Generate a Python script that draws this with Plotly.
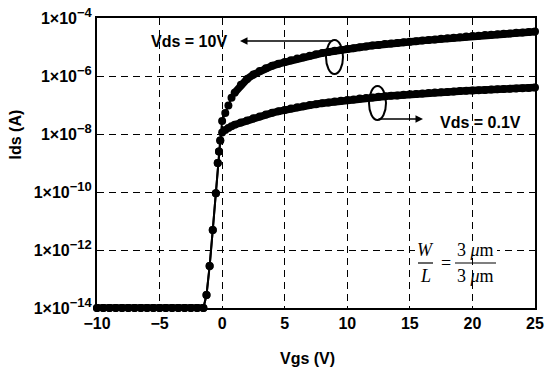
import plotly.graph_objects as go

# ---------------- data ----------------
vgs_off = [-10.0, -9.5, -9.0, -8.5, -8.0, -7.5, -7.0, -6.5, -6.0, -5.5, -5.0,
           -4.5, -4.0, -3.5, -3.0, -2.5, -2.0, -1.5,
           -1.25, -1.0, -0.75, -0.5, -0.35, -0.25, -0.15]
ids_off = [1e-14, 1e-14, 1e-14, 1e-14, 1e-14, 1e-14, 1e-14, 1e-14, 1e-14, 1e-14, 1e-14,
           1e-14, 1e-14, 1e-14, 1e-14, 1e-14, 1e-14, 1e-14,
           2.8e-14, 2.8e-13, 4.9e-12, 9.0e-11, 1.0e-9, 2.5e-9, 6.0e-9]
N_FLAT = 18  # points of the flat leakage floor at the start of vgs_off

vgs_on = [0.0, 0.25, 0.5, 0.75, 1.0, 1.5, 2.0, 2.5, 3.0, 3.5, 4.0, 4.5, 5.0,
          5.5, 6.0, 6.5, 7.0, 7.5, 8.0, 8.5, 9.0, 9.5, 10.0, 10.5, 11.0, 11.5,
          12.0, 12.5, 13.0, 13.5, 14.0, 14.5, 15.0, 15.5, 16.0, 16.5, 17.0,
          17.5, 18.0, 18.5, 19.0, 19.5, 20.0, 20.5, 21.0, 21.5, 22.0, 22.5,
          23.0, 23.5, 24.0, 24.5, 25.0]

ids_vds10 = [2.82e-8, 5.25e-8, 9.55e-8, 1.78e-7, 2.63e-7, 5.01e-7, 7.94e-7,
             1.12e-6, 1.48e-6, 1.86e-6, 2.24e-6, 2.63e-6, 3.02e-6, 3.47e-6,
             3.98e-6, 4.47e-6, 5.01e-6, 5.62e-6, 6.17e-6, 6.76e-6, 7.41e-6,
             7.94e-6, 8.51e-6, 9.12e-6, 9.77e-6, 1.05e-5, 1.12e-5, 1.17e-5,
             1.26e-5, 1.32e-5, 1.38e-5, 1.45e-5, 1.51e-5, 1.58e-5, 1.66e-5,
             1.74e-5, 1.82e-5, 1.91e-5, 2.00e-5, 2.09e-5, 2.19e-5, 2.29e-5,
             2.40e-5, 2.45e-5, 2.57e-5, 2.63e-5, 2.75e-5, 2.88e-5, 2.95e-5,
             3.09e-5, 3.16e-5, 3.31e-5, 3.39e-5]

ids_vds01 = [1.12e-8, 1.38e-8, 1.62e-8, 1.86e-8, 2.09e-8, 2.51e-8, 2.95e-8,
             3.47e-8, 3.98e-8, 4.68e-8, 5.37e-8, 6.03e-8, 6.76e-8, 7.59e-8,
             8.32e-8, 9.12e-8, 1.00e-7, 1.07e-7, 1.15e-7, 1.23e-7, 1.32e-7,
             1.41e-7, 1.48e-7, 1.55e-7, 1.66e-7, 1.74e-7, 1.82e-7, 1.91e-7,
             2.00e-7, 2.09e-7, 2.14e-7, 2.24e-7, 2.34e-7, 2.40e-7, 2.51e-7,
             2.57e-7, 2.69e-7, 2.75e-7, 2.82e-7, 2.95e-7, 3.02e-7, 3.09e-7,
             3.16e-7, 3.24e-7, 3.31e-7, 3.39e-7, 3.47e-7, 3.55e-7, 3.63e-7,
             3.72e-7, 3.80e-7, 3.89e-7, 3.98e-7]

x_ticks = [-10, -5, 0, 5, 10, 15, 20, 25]
y_ticks = [1e-14, 1e-12, 1e-10, 1e-8, 1e-6, 1e-4]
y_exponents = ["−14", "−12", "−10", "−8", "−6", "−4"]

# ---------------- figure ----------------
FONT = "Liberation Sans"
fig = go.Figure()
for name, ids in [("Vds = 0.1V", ids_vds01), ("Vds = 10V", ids_vds10)]:
    xs = vgs_off + vgs_on
    ys = ids_off + ids
    # measured points with markers and a thin connecting line
    fig.add_trace(go.Scatter(
        x=xs, y=ys, mode="lines+markers", name=name,
        line=dict(color="black", width=2),
        marker=dict(color="black", size=8),
        cliponaxis=False, showlegend=False))
    # dense sweep regions appear as a solid band of overlapping markers
    fig.add_trace(go.Scatter(
        x=vgs_on[4:], y=ids[4:], mode="lines", hoverinfo="skip",
        line=dict(color="black", width=7.5), cliponaxis=False, showlegend=False))
    fig.add_trace(go.Scatter(
        x=vgs_off[:N_FLAT], y=ids_off[:N_FLAT], mode="lines", hoverinfo="skip",
        line=dict(color="black", width=7), cliponaxis=False, showlegend=False))

grid = dict(showgrid=True, gridcolor="black", gridwidth=1.3, griddash="7px,5px",
            showline=True, linecolor="black", linewidth=2, mirror=True,
            ticks="", zeroline=False,
            tickfont=dict(family=FONT, size=16, color="black", weight="bold"))

y_ticktext = ["1×10<sup><span style='font-size:13px'>%s</span></sup>" % e
              for e in y_exponents]

fig.update_xaxes(range=[-10, 25], tickvals=x_ticks, **grid)
fig.update_yaxes(type="log", range=[-14, -4], tickvals=y_ticks,
                 ticktext=y_ticktext, **grid)

def px(x):
    return (x - 97) / 438

def py(y):
    return (308 - y) / 290

bold = dict(family=FONT, size=16, color="black", weight="bold")
serif = dict(family="Liberation Serif", size=18, color="black")

annotations = [
    dict(x=px(15), y=py(134.5), text="Ids (A)", textangle=-90, font=bold),
    dict(x=px(307), y=py(358), text="Vgs (V)", font=bold),
    dict(x=px(189), y=py(41), text="Vds = 10V", font=bold),
    dict(x=px(480), y=py(123), text="Vds = 0.1V", font=bold),
    # arrows
    dict(x=px(240), y=py(41), text="", showarrow=True, arrowhead=2,
         arrowsize=1, arrowwidth=1.5, arrowcolor="black", ax=94, ay=0),
    dict(x=px(423), y=py(119), text="", showarrow=True, arrowhead=2,
         arrowsize=1, arrowwidth=1.5, arrowcolor="black", ax=-46, ay=0),
    # W/L = 3 um / 3 um
    dict(x=px(425), y=py(250), text="<i>W</i>", font=serif),
    dict(x=px(425), y=py(276), text="<i>L</i>", font=serif),
    dict(x=px(446), y=py(263), text="=", font=serif),
    dict(x=px(475), y=py(250), text="3 <i>μ</i>m", font=serif),
    dict(x=px(475), y=py(276), text="3 <i>μ</i>m", font=serif),
]
for a in annotations:
    a.setdefault("xref", "paper")
    a.setdefault("yref", "paper")
    a.setdefault("showarrow", False)
    a.setdefault("xanchor", "center")
    a.setdefault("yanchor", "middle")
    fig.add_annotation(**a)

shapes = [
    dict(type="rect", x0=px(415), x1=px(497), y0=py(257), y1=py(243),
         fillcolor="white", line=dict(width=0), layer="above"),
    dict(type="circle", x0=px(326), x1=px(343), y0=py(74), y1=py(40),
         line=dict(color="black", width=2)),
    dict(type="circle", x0=px(369), x1=px(386), y0=py(120), y1=py(86),
         line=dict(color="black", width=2)),
    dict(type="line", x0=px(418), x1=px(433), y0=py(263), y1=py(263),
         line=dict(color="black", width=1.2)),
    dict(type="line", x0=px(455), x1=px(496), y0=py(263), y1=py(263),
         line=dict(color="black", width=1.2)),
]
for s in shapes:
    s.setdefault("xref", "paper")
    s.setdefault("yref", "paper")
    fig.add_shape(**s)

fig.update_layout(
    width=550, height=373,
    margin=dict(l=97, r=15, t=18, b=65, autoexpand=False),
    paper_bgcolor="white", plot_bgcolor="white",
    font=dict(family=FONT, color="black"),
)

fig.write_html("out.html", config={"displayModeBar": False},
               post_script="document.body.style.margin='0';"
                           "document.body.style.overflow='hidden';")
